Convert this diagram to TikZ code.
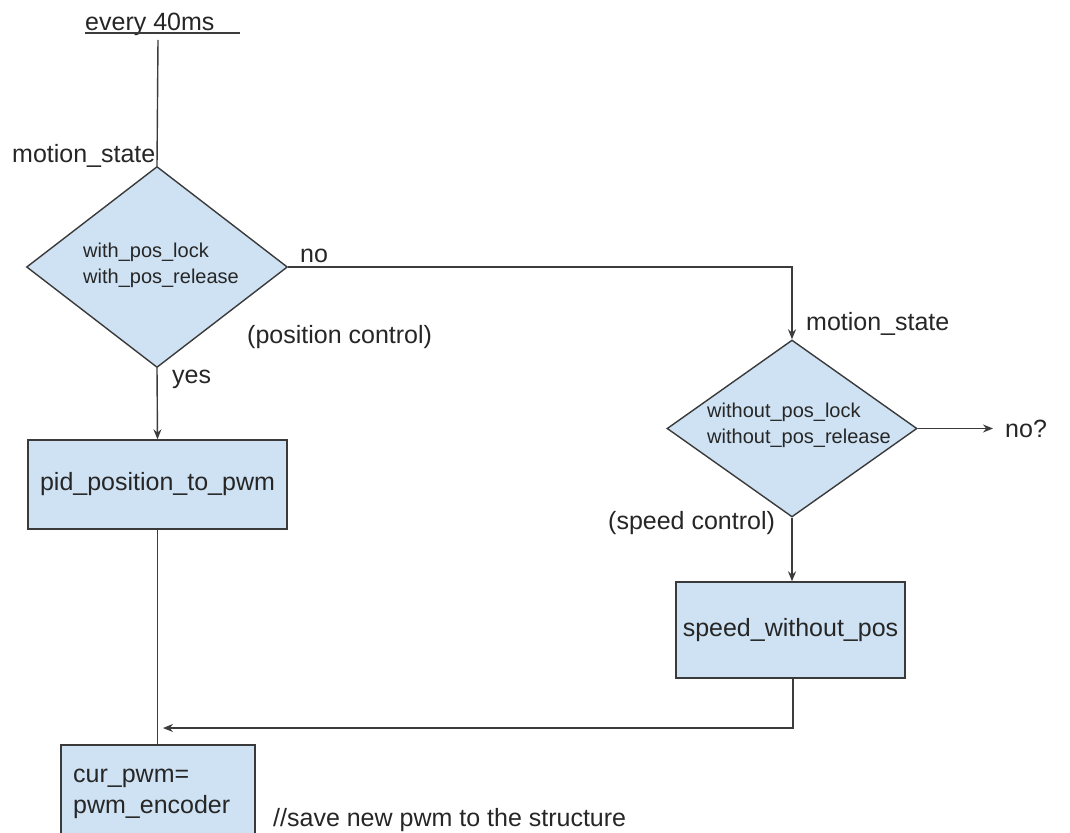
\documentclass[tikz,border=0pt]{standalone}
\usepackage{fontspec}
\setmainfont{Liberation Sans}
\usetikzlibrary{shapes.geometric,arrows.meta,calc}
\definecolor{boxfill}{HTML}{CFE2F3}
\definecolor{edgecol}{HTML}{3A3A3A}
\definecolor{wirecol}{HTML}{3C3C3C}
\begin{document}
\begin{tikzpicture}[x=1pt,y=-1pt,
  big/.style={font=\fontsize{25}{30}\selectfont, inner sep=0pt, text=black!85},
  small/.style={font=\fontsize{20}{25.5}\selectfont, inner sep=0pt, text=black!85},
  procbox/.style={draw=edgecol, fill=boxfill, line width=1.4pt, rectangle, inner sep=0pt, font=\fontsize{25}{30}\selectfont, text=black!85},
  decision/.style={draw=edgecol, fill=boxfill, line width=1.4pt, diamond, inner sep=0pt},
  wire/.style={draw=wirecol, line width=1.4pt},
  arr/.style={wire, -{Stealth[length=10pt,width=8pt]}}]
\clip (0,0) rectangle (1070,832);
\fill[white] (0,0) rectangle (1070,832);

% top
\node[big, anchor=base west] (every) at (85,31) {every 40ms};
\coordinate (ulA) at (85,33);
\coordinate (ulB) at (240,33);
\draw[wire, line width=1.1pt] (ulA) -- (ulB);
\coordinate (start) at (158,40);

% first decision
\node[decision, minimum width=261pt, minimum height=201pt] (d1) at (157,267) {};
\node[small, align=left, anchor=base west] (d1t) at (83,283) {with\_pos\_lock\\with\_pos\_release};
\node[big, anchor=base west] (ms1) at (12,162) {motion\_state};
\node[big, anchor=base west] (no1) at (300,262) {no};
\node[big, anchor=base west] (posc) at (247,343) {(position control)};
\node[big, anchor=base west] (yes) at (172,383) {yes};

% position box
\node[procbox, minimum width=259pt, minimum height=89pt] (b1) at (157.5,484.5) {pid\_position\_to\_pwm};

% second decision
\node[decision, minimum width=250pt, minimum height=177pt] (d2) at (792,428.5) {};
\node[small, align=left, anchor=base west] (d2t) at (707,443) {without\_pos\_lock\\without\_pos\_release};
\node[big, anchor=base west] (ms2) at (806,330) {motion\_state};
\node[big, anchor=base west] (noq) at (1005,437) {no?};
\node[big, anchor=base west] (spc) at (608,529) {(speed control)};

% speed box
\node[procbox, minimum width=229pt, minimum height=96pt] (b2) at (790.5,630) {speed\_without\_pos};

% final box
\node[procbox, minimum width=194pt, minimum height=120pt] (b3) at (158,805) {};
\node[big, align=left, anchor=base west, font=\fontsize{25}{31}\selectfont] (b3t) at (73,813) {cur\_pwm=\\pwm\_encoder};
\node[big, anchor=base west] (save) at (273,826) {//save new pwm to the structure};

% connectors
\draw[wire] (start) -- (d1.north);
\draw[arr] (d1.east) -| (d2.north);
\draw[arr] (d1.south) -- (b1.north);
\draw[arr] (d2.south) -- (d2.south |- b2.north);
\draw[arr, shorten >=12pt] (d2.east) -- (noq.west |- d2.east);
\draw[wire] (b1.south) -- (b1.south |- b3.north);
\coordinate (join) at (163,728);
\draw[arr] ([xshift=2.5pt]b2.south) |- (join);
\end{tikzpicture}
\end{document}
